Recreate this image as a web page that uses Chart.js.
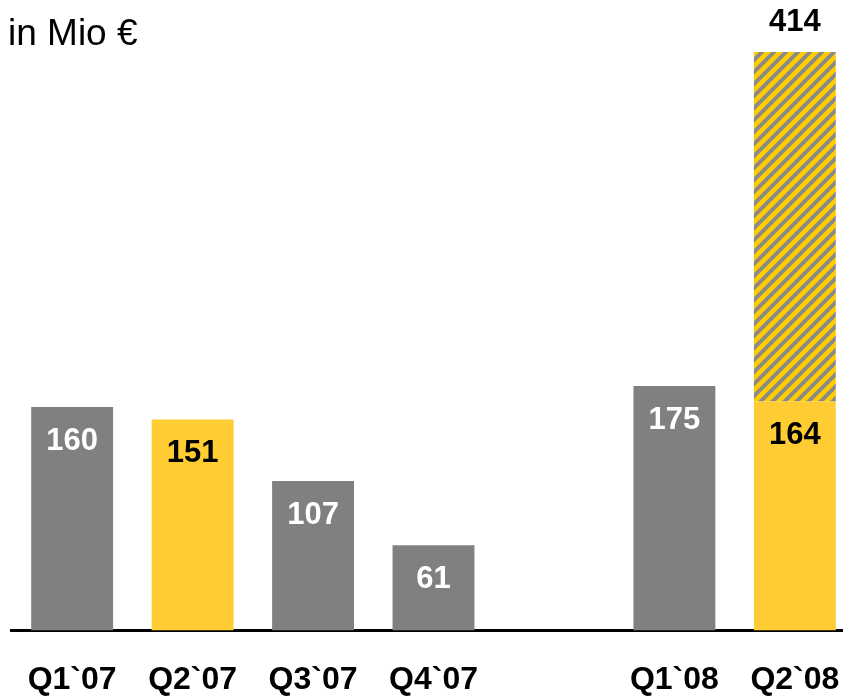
<!DOCTYPE html>
<html>
<head>
<meta charset="utf-8">
<script src="https://cdn.jsdelivr.net/npm/chart.js@4/dist/chart.umd.min.js"></script>
<style>
  html, body { margin: 0; padding: 0; background: #fff; overflow: hidden; width: 843px; height: 696px; }
  #wrap { position: relative; width: 843px; height: 696px; overflow: hidden; }
  #unit { position: absolute; left: 8px; top: 14px; font: 37px/37px "Liberation Sans", Arial, sans-serif; color: #000; white-space: nowrap; }
  canvas { position: absolute; left: -2px; top: 0; }
</style>
</head>
<body>
<div id="wrap">
  <canvas id="c" width="871" height="729"></canvas>
  <div id="unit">in Mio €</div>
</div>
<script>
// ---- data ----
const categories = ["Q1`07", "Q2`07", "Q3`07", "Q4`07", "", "Q1`08", "Q2`08"];
const baseValues = [160, 151, 107, 61, null, 175, 164];
const extraValues = [null, null, null, null, null, null, 250];
const totalLabels = [null, null, null, null, null, null, "414"];
const highlight = [false, true, false, false, false, false, true];

// ---- styles ----
const GRAY = "#808080";
const YELLOW = "#FFCC33";
const FONT = "'Liberation Sans', Arial, sans-serif";

function makeHatch() {
  const s = 12;
  const p = document.createElement("canvas");
  p.width = s; p.height = s;
  const g = p.getContext("2d");
  g.fillStyle = "#FFCC00";
  g.fillRect(0, 0, s, s);
  g.strokeStyle = "#888888";
  g.lineWidth = 3.8;
  g.beginPath();
  g.moveTo(-s / 2, s / 2); g.lineTo(s / 2, -s / 2);
  g.moveTo(0, s); g.lineTo(s, 0);
  g.moveTo(s / 2, s * 1.5); g.lineTo(s * 1.5, s / 2);
  g.stroke();
  return g.createPattern(p, "repeat");
}

const labelPlugin = {
  id: "valueLabels",
  afterDatasetsDraw(chart) {
    const ctx = chart.ctx;
    ctx.save();
    ctx.textAlign = "center";
    ctx.textBaseline = "middle";
    ctx.font = "bold 31px " + FONT;
    chart.getDatasetMeta(0).data.forEach((bar, i) => {
      const v = baseValues[i];
      if (v == null) return;
      ctx.fillStyle = highlight[i] ? "#000" : "#fff";
      ctx.fillText(String(v), bar.x, bar.y + 34);
    });
    chart.getDatasetMeta(1).data.forEach((bar, i) => {
      const t = totalLabels[i];
      if (t == null) return;
      ctx.fillStyle = "#000";
      ctx.fillText(t, bar.x, bar.y - 30);
    });
    ctx.restore();
  }
};

new Chart(document.getElementById("c"), {
  type: "bar",
  data: {
    labels: categories,
    datasets: [
      {
        data: baseValues,
        backgroundColor: highlight.map(h => h ? YELLOW : GRAY),
        borderWidth: 0,
        barPercentage: 0.68,
        categoryPercentage: 1
      },
      {
        data: extraValues,
        backgroundColor: makeHatch(),
        borderWidth: 0,
        barPercentage: 0.68,
        categoryPercentage: 1
      }
    ]
  },
  options: {
    responsive: false,
    animation: false,
    events: [],
    layout: { padding: { top: 52, left: 9.5, right: 0, bottom: 0 } },
    plugins: { legend: { display: false }, tooltip: { enabled: false }, title: { display: false } },
    scales: {
      x: {
        stacked: true,
        grid: { display: false, drawTicks: false },
        border: { display: true, color: "#000", width: 3 },
        ticks: {
          color: "#000",
          padding: 30,
          font: { family: FONT, size: 32, weight: "bold" },
          maxRotation: 0,
          autoSkip: false
        }
      },
      y: {
        stacked: true,
        display: false,
        min: 0,
        max: 414
      }
    }
  },
  plugins: [labelPlugin]
});
</script>
</body>
</html>
